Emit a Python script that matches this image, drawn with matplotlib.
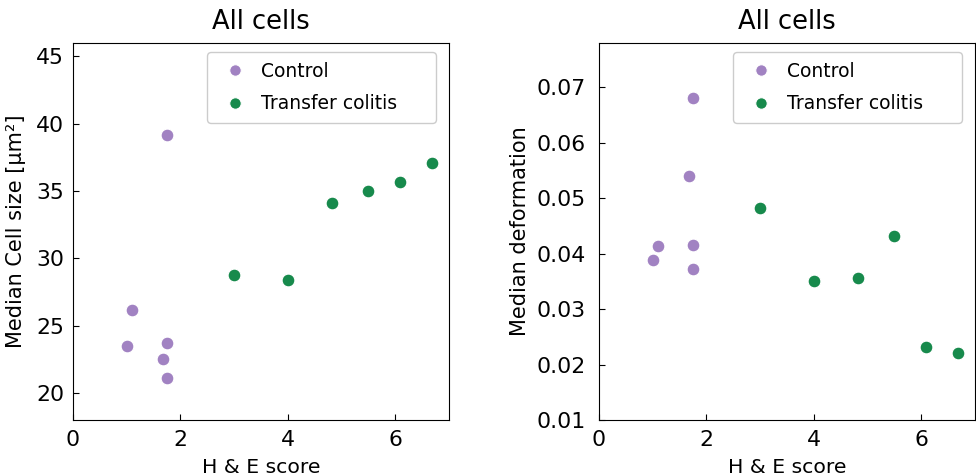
import matplotlib.pyplot as plt

ctrl_score = [1.0, 1.1, 1.75, 1.75, 1.67, 1.75]
ctrl_size = [23.5, 26.2, 39.2, 23.7, 22.5, 21.1]
ctrl_deform = [0.0389, 0.0413, 0.0415, 0.0680, 0.0541, 0.0373]

tc_score = [3.0, 4.0, 4.83, 5.5, 6.09, 6.68]
tc_size = [28.8, 28.4, 34.1, 35.0, 35.7, 37.1]
tc_deform = [0.0482, 0.0350, 0.0357, 0.0431, 0.0231, 0.0220]

purple = '#a182c2'
green = '#178a4c'

fig = plt.figure(figsize=(9.76, 4.76), dpi=100)
ax1 = fig.add_axes([73 / 976, 56 / 476, 376 / 976, 377 / 476])
ax2 = fig.add_axes([599 / 976, 56 / 476, 376 / 976, 377 / 476])


def draw(ax, y_ctrl, y_tc, ylabel, ypad, ylabelpad):
    ax.scatter(ctrl_score, y_ctrl, s=85, c=purple, edgecolors='white', linewidths=0.8, label='Control', zorder=3)
    ax.scatter(tc_score, y_tc, s=85, c=green, edgecolors='white', linewidths=0.8, label='Transfer colitis', zorder=3)
    ax.set_xlim(0, 7)
    ax.set_xticks([0, 2, 4, 6])
    ax.set_xlabel('H & E score', fontsize=14.7, labelpad=6)
    ax.set_ylabel(ylabel, fontsize=15, labelpad=ylabelpad)
    ax.set_title('All cells', fontsize=18.5, pad=10)
    ax.tick_params(direction='in', labelsize=15.8, length=4)
    ax.tick_params(axis='x', pad=7)
    ax.tick_params(axis='y', pad=ypad)
    ax.legend(loc='upper left', bbox_to_anchor=(0.356, 0.975, 0.609, 0.0), mode='expand',
              borderaxespad=0, fontsize=13.5, handletextpad=0.4, borderpad=0.5,
              labelspacing=0.72, scatteryoffsets=[0.5], markerscale=0.9, framealpha=1)


draw(ax1, ctrl_size, tc_size, 'Median Cell size [µm²]', 6.4, 7)
ax1.set_ylim(18, 46)
ax1.set_yticks([20, 25, 30, 35, 40, 45])

draw(ax2, ctrl_deform, tc_deform, 'Median deformation', 9.3, 4.7)
ax2.set_ylim(0.01, 0.078)
ax2.set_yticks([0.01, 0.02, 0.03, 0.04, 0.05, 0.06, 0.07])

fig.savefig('out.png', dpi=100)
